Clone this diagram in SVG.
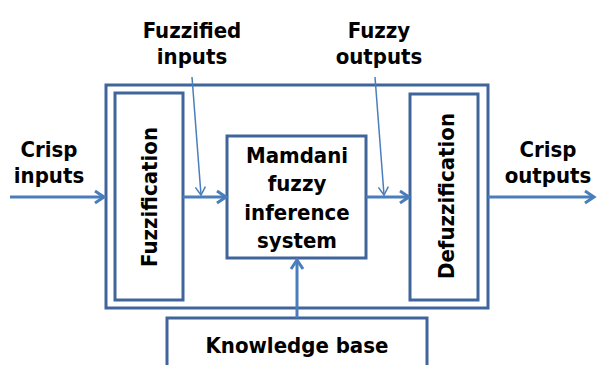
<svg xmlns="http://www.w3.org/2000/svg" width="598" height="365" viewBox="0 0 598 365">
<defs>
<style>
.box{fill:#fff;stroke:#40659A;stroke-width:3}
.frame{fill:none;stroke:#40659A;stroke-width:3}
.t{font-family:"DejaVu Sans Condensed","DejaVu Sans",Verdana,sans-serif;font-stretch:condensed;font-weight:bold;font-size:22px;fill:#000;text-anchor:middle}
.arr{stroke:#4A7EBB;stroke-width:3;fill:none;marker-end:url(#ah)}
.thin{stroke:#4A7EBB;stroke-width:1.5;fill:none;marker-end:url(#ahs)}
</style>
<marker id="ah" markerUnits="userSpaceOnUse" markerWidth="16" markerHeight="16" refX="13" refY="8" orient="auto" viewBox="0 0 16 16">
<path d="M4,2 L13,8 L4,14" fill="none" stroke="#4A7EBB" stroke-width="3"/>
</marker>
<marker id="ahs" markerUnits="userSpaceOnUse" markerWidth="14" markerHeight="14" refX="11" refY="7" orient="auto" viewBox="0 0 14 14">
<path d="M3,2 L11,7 L3,12" fill="none" stroke="#4A7EBB" stroke-width="1.5"/>
</marker>
</defs>
<rect width="598" height="365" fill="#fff"/>
<g id="system">
<rect class="frame" x="106" y="85" width="382" height="223"/>
</g>
<g id="fuzzification">
<rect class="box" x="115" y="93" width="68" height="207"/>
<text class="t" transform="translate(157,197) rotate(-90)" x="0" y="0">Fuzzification</text>
</g>
<g id="mamdani">
<rect class="box" x="227" y="136" width="139" height="122"/>
<text class="t" x="297" y="163">Mamdani</text>
<text class="t" x="297" y="191">fuzzy</text>
<text class="t" x="297" y="220">inference</text>
<text class="t" x="297" y="248">system</text>
</g>
<g id="defuzzification">
<rect class="box" x="410" y="94" width="68" height="206"/>
<text class="t" transform="translate(454,196) rotate(-90)" x="0" y="0">Defuzzification</text>
</g>
<g id="knowledge">
<rect class="box" x="167" y="318" width="260" height="60"/>
<text class="t" x="297" y="353">Knowledge base</text>
</g>
<g id="labels">
<text class="t" x="49" y="157">Crisp</text>
<text class="t" x="49" y="183">inputs</text>
<text class="t" x="192" y="38">Fuzzified</text>
<text class="t" x="192" y="64">inputs</text>
<text class="t" x="379" y="38">Fuzzy</text>
<text class="t" x="379" y="64">outputs</text>
<text class="t" x="548" y="157">Crisp</text>
<text class="t" x="548" y="183">outputs</text>
</g>
<g id="connectors">
<line class="arr" x1="10" y1="197" x2="104" y2="197"/>
<line class="arr" x1="183" y1="197" x2="226" y2="197"/>
<line class="arr" x1="366" y1="197" x2="409" y2="197"/>
<line class="arr" x1="488" y1="197" x2="594" y2="197"/>
<line class="arr" x1="297" y1="318" x2="297" y2="260"/>
<line class="thin" x1="192" y1="77" x2="201" y2="195"/>
<line class="thin" x1="375" y1="77" x2="384" y2="195"/>
</g>
</svg>
